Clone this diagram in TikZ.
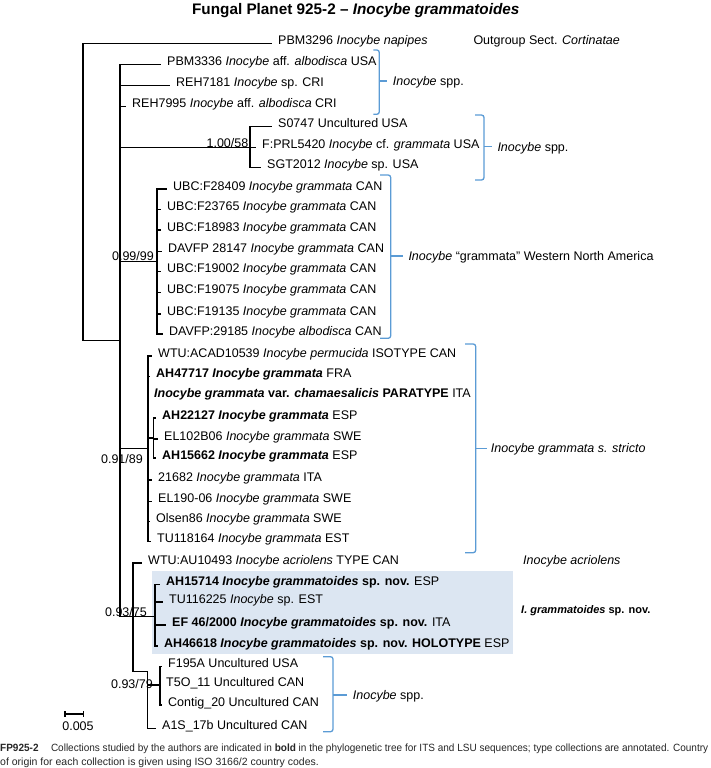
\documentclass[tikz,border=0pt]{standalone}
\usepackage{fontspec}
\usepackage{graphicx}
\setmainfont{Liberation Sans}
\definecolor{bracketblue}{RGB}{91,155,213}
\definecolor{boxblue}{RGB}{220,230,242}
\newcommand\lf{\fontsize{12.5}{15}\selectfont}
\newcommand\tleaf[4]{%
  \coordinate (#1-e) at (#2-6,#3);
  \node[leaf] (#1) at (#2,#3+1) {#4};}
\newcommand\cbrack[9]{%
  \draw[brk] (#5,#3) -- (#2,#3) -- (#2,#4) -- (#5,#4);
  \coordinate (#1-m) at (#2,#6);
  \coordinate (#1-t) at (#7,#6);
  \draw[brk] (#1-m) -- (#1-t);
  \node[leaf] (#1) at (#8,#6+4.5) {#9};}
\tikzset{
  tree/.style={line width=1.2pt, line join=miter},
  leaf/.style={anchor=base west, inner sep=0pt, font=\lf},
  sup/.style={anchor=base east, inner sep=0pt, font=\lf},
  brk/.style={draw=bracketblue, line width=1.3pt, rounded corners=2.5pt},
}
\begin{document}
\begin{tikzpicture}[x=1pt,y=-1pt]
\useasboundingbox (0,0) rectangle (711,768);
\fill[boxblue] (151.7,571) rectangle (512.7,654);
\node[font=\fontsize{15.3}{18}\selectfont\bfseries, anchor=base, inner sep=0pt] (title) at (355.8,15) {Fungal Planet 925-2 – \textit{Inocybe grammatoides}};

% root and outgroup
\coordinate (r) at (83,340.7);
\coordinate (A) at (120,340.7);
\tleaf{pbm3296}{278}{43.3}{PBM3296 \textit{Inocybe napipes}}
\draw[tree] (r) |- (pbm3296-e);
\draw[tree] (r) -- (A);

% ingroup
\tleaf{pbm3336}{167}{64.3}{PBM3336 \textit{Inocybe} aff. \textit{albodisca} USA}
\tleaf{reh7181}{176}{85.7}{REH7181 \textit{Inocybe} sp. CRI}
\tleaf{reh7995}{132}{106.7}{REH7995 \textit{Inocybe} aff. \textit{albodisca} CRI}
\coordinate (B) at (250,147.7);
\coordinate (C) at (157,261.7);
\coordinate (D) at (148,448.3);
\coordinate (E) at (133,616.7);
\foreach \t in {pbm3336-e,reh7181-e,reh7995-e,B,C,D,E} \draw[tree] (A) |- (\t);

% clade B
\tleaf{s0747}{278}{126.7}{S0747 Uncultured USA}
\tleaf{prl5420}{262}{147.7}{F:PRL5420 \textit{Inocybe} cf. \textit{grammata} USA}
\tleaf{sgt2012}{267}{167.7}{SGT2012 \textit{Inocybe} sp. USA}
\foreach \t in {s0747-e,prl5420-e,sgt2012-e} \draw[tree] (B) |- (\t);
\node[sup] (sB) at (248.5,147.3) {1.00/58};

% clade C
\tleaf{f28409}{173}{189}{UBC:F28409 \textit{Inocybe grammata} CAN}
\tleaf{f23765}{167}{209.3}{UBC:F23765 \textit{Inocybe grammata} CAN}
\tleaf{f18983}{167}{230}{UBC:F18983 \textit{Inocybe grammata} CAN}
\tleaf{dav28147}{168}{251.7}{DAVFP 28147 \textit{Inocybe grammata} CAN}
\tleaf{f19002}{167}{271.7}{UBC:F19002 \textit{Inocybe grammata} CAN}
\tleaf{f19075}{167}{292.3}{UBC:F19075 \textit{Inocybe grammata} CAN}
\tleaf{f19135}{167}{314}{UBC:F19135 \textit{Inocybe grammata} CAN}
\tleaf{dav29185}{169}{334}{DAVFP:29185 \textit{Inocybe albodisca} CAN}
\foreach \t in {f28409-e,f23765-e,f18983-e,dav28147-e,f19002-e,f19075-e,f19135-e,dav29185-e} \draw[tree] (C) |- (\t);
\node[sup] (sC) at (154,260.5) {0.99/99};

% clade D
\coordinate (D2) at (153.3,438);
\tleaf{acad}{158}{356}{WTU:ACAD10539 \textit{Inocybe permucida} ISOTYPE CAN}
\tleaf{ah47717}{156}{376.7}{\textbf{AH47717 \textit{Inocybe grammata}} FRA}
\tleaf{chama}{154}{396}{\textbf{\textit{Inocybe grammata} var. \textit{chamaesalicis} PARATYPE} ITA}
\tleaf{ah22127}{162}{418}{\textbf{AH22127 \textit{Inocybe grammata}} ESP}
\tleaf{el102}{164}{439}{EL102B06 \textit{Inocybe grammata} SWE}
\tleaf{ah15662}{162}{458}{\textbf{AH15662 \textit{Inocybe grammata}} ESP}
\tleaf{i21682}{158}{480}{21682 \textit{Inocybe grammata} ITA}
\tleaf{el190}{158}{501.7}{EL190-06 \textit{Inocybe grammata} SWE}
\tleaf{olsen}{156}{521.7}{Olsen86 \textit{Inocybe grammata} SWE}
\tleaf{tu118}{157}{541.7}{TU118164 \textit{Inocybe grammata} EST}
\foreach \t in {acad-e,ah47717-e,chama-e,D2,i21682-e,el190-e,olsen-e,tu118-e} \draw[tree] (D) |- (\t);
\foreach \t in {ah22127-e,el102-e,ah15662-e} \draw[tree] (D2) |- (\t);
\node[sup] (sD) at (143,463.5) {0.91/89};

% clade E
\coordinate (F) at (155,616.7);
\coordinate (G) at (147.7,671.7);
\coordinate (G2) at (160,685);
\tleaf{au10493}{148}{563}{WTU:AU10493 \textit{Inocybe acriolens} TYPE CAN}
\tleaf{ah15714}{166}{584.5}{\textbf{AH15714 \textit{Inocybe grammatoides} sp. nov.} ESP}
\tleaf{tu116}{169}{602}{TU116225 \textit{Inocybe} sp. EST}
\tleaf{ef46}{172}{625}{\textbf{EF 46/2000 \textit{Inocybe grammatoides} sp. nov.} ITA}
\tleaf{ah46618}{164}{646}{\textbf{AH46618 \textit{Inocybe grammatoides} sp. nov. HOLOTYPE} ESP}
\tleaf{f195a}{168}{666.7}{F195A Uncultured USA}
\tleaf{t5o}{166}{685}{T5O\_11 Uncultured CAN}
\tleaf{contig}{168}{705}{Contig\_20 Uncultured CAN}
\tleaf{a1s}{162}{728.3}{A1S\_17b Uncultured CAN}
\foreach \t in {au10493-e,F,G} \draw[tree] (E) |- (\t);
\foreach \t in {ah15714-e,tu116-e,ef46-e,ah46618-e} \draw[tree] (F) |- (\t);
\foreach \t in {G2,a1s-e} \draw[tree] (G) |- (\t);
\foreach \t in {f195a-e,t5o-e,contig-e} \draw[tree] (G2) |- (\t);
\node[sup] (sE) at (147,616) {0.93/75};
\node[sup] (sG) at (153,688.5) {0.93/79};

% brackets and group labels
\cbrack{g1}{379.3}{50}{114.3}{373.3}{81}{386.7}{392.7}{\textit{Inocybe} spp.}
\cbrack{g2}{484}{115}{180}{475}{146.7}{491.7}{497.3}{\textit{Inocybe} spp.}
\cbrack{g3}{390.7}{175}{338.3}{380}{256}{402.7}{408.3}{\textit{Inocybe} “grammata” Western North America}
\cbrack{g4}{475.7}{344}{552.7}{465}{448.3}{486.7}{490.7}{\textit{Inocybe grammata s. stricto}}
\cbrack{g5}{333}{656.7}{731.7}{323}{695}{347}{352.7}{\textit{Inocybe} spp.}
\node[leaf] (outg) at (473.3,44.5) {Outgroup Sect. \textit{Cortinatae}};
\node[leaf] (acri) at (523,564) {\textit{Inocybe acriolens}};
\node[leaf, font=\fontsize{11}{13}\selectfont\bfseries] (igr) at (521,613.5) {\textit{I. grammatoides} sp. nov.};

% scale bar
\coordinate (sb1) at (65,714);
\coordinate (sb2) at (83.3,714);
\draw[line width=1.2pt] (sb1) -- (sb2);
\draw[line width=1.2pt] ([yshift=3pt]sb1) -- ([yshift=-3pt]sb1);
\draw[line width=1.2pt] ([yshift=3pt]sb2) -- ([yshift=-3pt]sb2);
\node[anchor=base, inner sep=0pt, font=\lf] (sbl) at (78,730.2) {0.005};

% caption
\node[anchor=base west, inner sep=0pt, font=\fontsize{10.5}{13}\selectfont, text=black!85] (cap1) at (0,751.7) {\resizebox{708pt}{\height}{\textbf{FP925-2}\hspace{13pt}Collections studied by the authors are indicated in \textbf{bold} in the phylogenetic tree for ITS and LSU sequences; type collections are annotated. Country}};
\node[anchor=base west, inner sep=0pt, font=\fontsize{10.5}{13}\selectfont, text=black!85] (cap2) at (0,765.4) {of origin for each collection is given using ISO 3166/2 country codes.};
\end{tikzpicture}
\end{document}
